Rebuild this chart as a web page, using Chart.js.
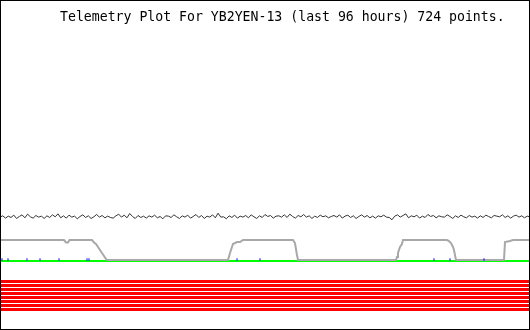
<!DOCTYPE html>
<html>
<head>
<meta charset="utf-8">
<script src="https://cdn.jsdelivr.net/npm/chart.js@4/dist/chart.umd.min.js"></script>
<style>
  html, body { margin: 0; padding: 0; background: #fff; }
  #c { display: block; }
</style>
</head>
<body>
<canvas id="c" width="530" height="330"></canvas>
<script>
// ---- data (hours within the 96 h window, scaled telemetry values 0..100) ----
const titleText = "Telemetry Plot For YB2YEN-13 (last 96 hours) 724 points.";
const spanHours = 96;

// channel 1 (black, noisy) sampled every half hour
const blackValues = [
  34.2,34.6,33.9,34.5,34.1,34.8,33.8,34.4,34.9,34.0,35.1,34.3,33.9,34.7,34.2,34.5,33.8,34.6,34.1,34.9,34.3,
  35.2,34.0,34.6,33.9,34.8,34.2,34.5,33.7,34.4,34.9,34.1,34.6,33.8,34.3,35.0,34.2,34.7,34.0,34.5,34.1,
  33.9,34.6,35.1,34.2,34.8,34.0,35.3,34.4,33.8,34.7,34.1,34.5,33.9,34.6,34.2,34.8,34.0,34.4,33.7,34.6,
  34.5,34.1,34.9,34.3,33.8,34.6,34.2,34.8,33.9,34.4,35.0,34.1,34.7,33.8,34.5,34.2,34.9,34.0,35.4,34.2,
  34.3,33.7,34.6,34.1,34.8,33.9,34.5,34.2,34.7,34.0,34.9,34.3,33.8,34.6,34.1,35.0,34.4,34.7,33.9,34.5,
  34.6,34.2,34.9,34.1,35.1,34.4,33.9,34.7,34.3,35.0,34.2,34.6,33.8,34.5,34.1,34.8,34.3,34.6,34.0,34.4,
  34.7,34.2,34.9,33.9,34.5,34.8,34.1,34.6,33.8,34.4,34.9,34.2,34.7,34.0,34.5,33.9,34.6,34.3,34.8,34.2,
  34.1,33.4,34.5,34.9,34.2,34.7,35.2,34.0,34.6,34.3,34.8,33.9,34.5,34.1,35.0,34.4,34.7,34.0,34.6,34.3,
  34.2,34.9,34.4,33.8,34.6,34.1,34.8,34.3,34.0,34.7,34.2,34.5,33.9,34.6,34.1,34.8,34.4,34.0,34.7,34.5,
  34.3,34.9,34.1,34.6,33.9,34.5,34.8,34.2,34.6,34.0,34.5,34.3
];

// channel 2 (grey) : hours and values
const grayHours = [0,11.59,11.95,12.32,12.59,16.66,17.03,17.39,17.75,18.11,18.47,18.84,19.20,19.38,
  41.30,41.66,42.02,42.20,42.93,43.47,44.01,53.07,53.43,53.79,53.98,
  71.73,71.91,72.09,72.45,72.81,72.99,80.96,81.33,81.69,82.05,82.23,82.59,
  91.29,91.47,92.37,92.92,96];
const grayValues = [27.27,27.27,26.52,26.52,27.27,27.27,26.52,26.06,25.15,24.24,23.33,22.42,21.52,21.21,
  21.21,23.33,25.15,26.06,26.67,26.67,27.27,27.27,26.36,22.73,21.21,
  21.21,22.12,23.33,25.15,26.06,27.27,27.27,26.97,26.36,25.15,24.24,21.21,
  21.21,26.67,26.97,27.27,27.27];

// channel 3 (green)
const greenHours = [0, 96];
const greenValues = [20.91, 20.91];

// channel 4 (blue) isolated readings
const blueHours = [0.36,1.45,4.89,7.25,10.69,15.76,16.12,42.93,47.09,78.61,81.51,87.67];
const blueValues = [21.36,21.36,21.36,21.36,21.36,21.36,21.36,21.36,21.36,21.36,21.36,21.36];

// digital bits (red), constant levels
const redLevels = [14.70,13.48,12.27,11.06,9.85,8.64,7.42,6.21];

// ---- build datasets ----
const pts = (xs, ys) => xs.map((x, i) => ({ x: x, y: ys[i] }));
const blackPts = blackValues.map((v, i) => ({ x: i * spanHours / (blackValues.length - 1), y: v }));

const common = { pointRadius: 0, pointHoverRadius: 0, pointHitRadius: 0 };
const datasets = [
  { label: 'blue', data: pts(blueHours, blueValues), showLine: false, pointStyle: 'line', rotation: 90,
    pointRadius: 1.2, pointHoverRadius: 0, pointHitRadius: 0,
    borderColor: '#0000ff', backgroundColor: '#0000ff', borderWidth: 1 },
  Object.assign({ label: 'gray', data: pts(grayHours, grayValues), borderColor: '#a8a8a8', borderWidth: 2 }, common),
  Object.assign({ label: 'green', data: pts(greenHours, greenValues), borderColor: '#00ff00', borderWidth: 2 }, common),
  Object.assign({ label: 'black', data: blackPts, borderColor: '#333333', borderWidth: 1 }, common)
];
redLevels.forEach((lv, i) => {
  datasets.push(Object.assign({ label: 'bit' + (i + 1), data: pts([0, spanHours], [lv, lv]),
    borderColor: '#ff0000', borderWidth: 3 }, common));
});

const framePlugin = {
  id: 'frame',
  afterDraw(chart) {
    const ctx = chart.ctx;
    ctx.save();
    ctx.fillStyle = '#000';
    ctx.font = '13.2px "DejaVu Sans Mono", monospace';
    ctx.textBaseline = 'alphabetic';
    ctx.textAlign = 'left';
    ctx.fillText(titleText, 60, 21);
    ctx.strokeStyle = '#000';
    ctx.lineWidth = 1;
    ctx.strokeRect(0.5, 0.5, chart.width - 1, chart.height - 1);
    ctx.restore();
  }
};

new Chart(document.getElementById('c'), {
  type: 'line',
  data: { datasets },
  options: {
    responsive: false,
    animation: false,
    devicePixelRatio: 1,
    layout: { padding: 0, autoPadding: false },
    elements: { line: { tension: 0 } },
    plugins: { legend: { display: false }, tooltip: { enabled: false }, title: { display: false } },
    scales: {
      x: { type: 'linear', min: 0, max: spanHours, display: false },
      y: { type: 'linear', min: 0, max: 100, display: false }
    }
  },
  plugins: [framePlugin]
});
</script>
</body>
</html>
